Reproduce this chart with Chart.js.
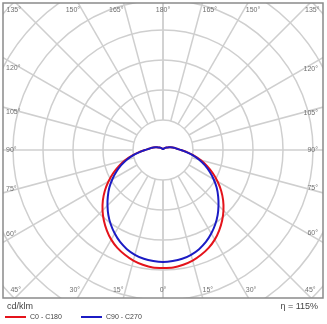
<!DOCTYPE html>
<html>
<head>
<meta charset="utf-8">
<script src="https://cdn.jsdelivr.net/npm/chart.js@4.4.1/dist/chart.umd.min.js"></script>
<style>
  html, body { margin: 0; padding: 0; background: #fff; }
</style>
</head>
<body>
<canvas id="ldc" width="327" height="324"></canvas>
<script>
// gamma angles (deg) for the intensity values below, 0 = straight down
const gammaAngles = [0, 5, 10, 15, 20, 25, 30, 35, 40, 45, 50, 55, 60, 65, 70, 75, 80, 85, 90,
  95, 100, 105, 110, 115, 120, 125, 130, 135, 140, 145, 150, 155, 160, 165, 170, 175, 180];

// luminous intensity, cd/klm
const c0c180 = [236, 236, 233, 229, 223, 216, 207, 196, 184, 171, 157, 142, 126, 110, 94, 78, 62, 48, 36,
  28, 24, 20, 16, 13, 10, 8.5, 7, 6, 5, 4, 3, 2.5, 2, 1.5, 1, 0.5, 0];
const c90c270 = [224, 223, 221, 217, 211, 203, 193, 182, 170, 157, 144, 131, 117, 103, 89, 75, 61, 47, 36,
  28, 24, 20, 16, 13, 10, 8.5, 7, 6, 5, 4, 3, 2.5, 2, 1.5, 1, 0.5, 0];

const gridAngles = [0, 15, 30, 45, 60, 75, 90, 105, 120, 135, 150, 165, 180];
const ringValues = [60, 120, 180, 240, 300, 360, 420];
const unitText = "cd/klm";
const etaText = "η = 115%";

const rad = d => d * Math.PI / 180;

// polar (gamma, I) -> x/y for both half planes, left side first
function toPoints(values) {
  const pts = [];
  for (let i = gammaAngles.length - 1; i >= 0; i--) {
    const a = rad(gammaAngles[i]);
    pts.push({ x: -values[i] * Math.sin(a), y: -values[i] * Math.cos(a) });
  }
  for (let i = 1; i < gammaAngles.length; i++) {
    const a = rad(gammaAngles[i]);
    pts.push({ x: values[i] * Math.sin(a), y: -values[i] * Math.cos(a) });
  }
  return pts;
}

const polarGrid = {
  id: "polarGrid",
  beforeDatasetsDraw(chart) {
    const { ctx, chartArea: area, scales: { x, y } } = chart;
    const cx = x.getPixelForValue(0), cy = y.getPixelForValue(0);
    const k = x.getPixelForValue(1) - cx;
    ctx.save();
    ctx.beginPath();
    ctx.rect(area.left, area.top, area.width, area.height);
    ctx.clip();
    ctx.strokeStyle = "#cfcfcf";
    ctx.lineWidth = 1.5;
    ringValues.forEach(v => {
      ctx.beginPath();
      ctx.arc(cx, cy, v * k, 0, Math.PI * 2);
      ctx.stroke();
    });
    const r0 = ringValues[0] * k;
    [-1, 1].forEach(s => {
      gridAngles.forEach(g => {
        const dx = s * Math.sin(rad(g)), dy = Math.cos(rad(g));
        ctx.beginPath();
        ctx.moveTo(cx + dx * r0, cy + dy * r0);
        ctx.lineTo(cx + dx * 400, cy + dy * 400);
        ctx.stroke();
      });
    });
    ctx.restore();
  },
  afterDatasetsDraw(chart) {
    const { ctx, chartArea: area, scales: { x, y } } = chart;
    const cx = x.getPixelForValue(0), cy = y.getPixelForValue(0);
    ctx.save();
    // frame
    ctx.strokeStyle = "#8a8a8a";
    ctx.lineWidth = 1.5;
    ctx.strokeRect(area.left, area.top, area.width, area.height);

    // angle labels along the frame
    ctx.font = "7px 'Liberation Sans', Arial, sans-serif";
    ctx.fillStyle = "#707070";
    ctx.textBaseline = "middle";
    const left = area.left + 3, right = area.right - 5;
    const top = area.top + 7, bottom = area.bottom - 8;
    [-1, 1].forEach(s => {
      gridAngles.forEach(g => {
        if (s < 0 && (g === 0 || g === 180)) return;
        const txt = g + "°";
        const dx = s * Math.sin(rad(g)), dy = Math.cos(rad(g));
        const yb = dy > 0 ? bottom : top;
        const xb = s > 0 ? right : left;
        const ty = Math.abs(dy) > 1e-9 ? (yb - cy) / dy : Infinity;
        const tx = Math.abs(dx) > 1e-9 ? (xb - cx) / dx : Infinity;
        if (ty <= tx) {
          const px = cx + dx * ty;
          if (g === 0 || g === 180) {
            ctx.textAlign = "center";
            ctx.fillText(txt, px, yb);
          } else {
            ctx.textAlign = s > 0 ? "left" : "right";
            ctx.fillText(txt, px + s * 2, yb);
          }
        } else {
          const w = ctx.measureText(txt).width;
          const inner = xb - s * (w + 1);
          const py = cy + dy * ((inner - cx) / dx);
          ctx.textAlign = s > 0 ? "right" : "left";
          ctx.fillText(txt, xb, py);
        }
      });
    });
    ctx.restore();
  },
  afterDraw(chart) {
    const { ctx, chartArea: area } = chart;
    ctx.save();
    ctx.textBaseline = "middle";
    ctx.fillStyle = "#444";
    ctx.font = "9px 'Liberation Sans', Arial, sans-serif";
    ctx.textAlign = "left";
    ctx.fillText(unitText, 7, area.bottom + 9);
    ctx.textAlign = "right";
    ctx.fillText(etaText, area.right - 5, area.bottom + 9);

    ctx.font = "7px 'Liberation Sans', Arial, sans-serif";
    ctx.textAlign = "left";
    const rowY = area.bottom + 19;
    const starts = [5, 81];
    chart.data.datasets.forEach((ds, i) => {
      const x0 = starts[i];
      ctx.strokeStyle = ds.borderColor;
      ctx.lineWidth = 2;
      ctx.beginPath();
      ctx.moveTo(x0, rowY);
      ctx.lineTo(x0 + 21, rowY);
      ctx.stroke();
      ctx.fillStyle = "#444";
      ctx.fillText(ds.label, x0 + 25, rowY);
    });
    ctx.restore();
  }
};

new Chart(document.getElementById("ldc"), {
  type: "scatter",
  data: {
    datasets: [
      {
        label: "C0 - C180",
        data: toPoints(c0c180),
        borderColor: "#e4131b",
        borderWidth: 2,
        showLine: true,
        pointRadius: 0,
        tension: 0.2,
        order: 1
      },
      {
        label: "C90 - C270",
        data: toPoints(c90c270),
        borderColor: "#1b1bc4",
        borderWidth: 2,
        showLine: true,
        pointRadius: 0,
        tension: 0.2,
        order: 0
      }
    ]
  },
  options: {
    responsive: false,
    animation: false,
    devicePixelRatio: 1,
    layout: { padding: { left: 3, top: 3, right: 4, bottom: 26 } },
    scales: {
      x: { type: "linear", min: -320, max: 320, display: false },
      y: { type: "linear", min: -296, max: 294, display: false }
    },
    plugins: {
      legend: { display: false },
      tooltip: { enabled: false }
    }
  },
  plugins: [polarGrid]
});
</script>
</body>
</html>
